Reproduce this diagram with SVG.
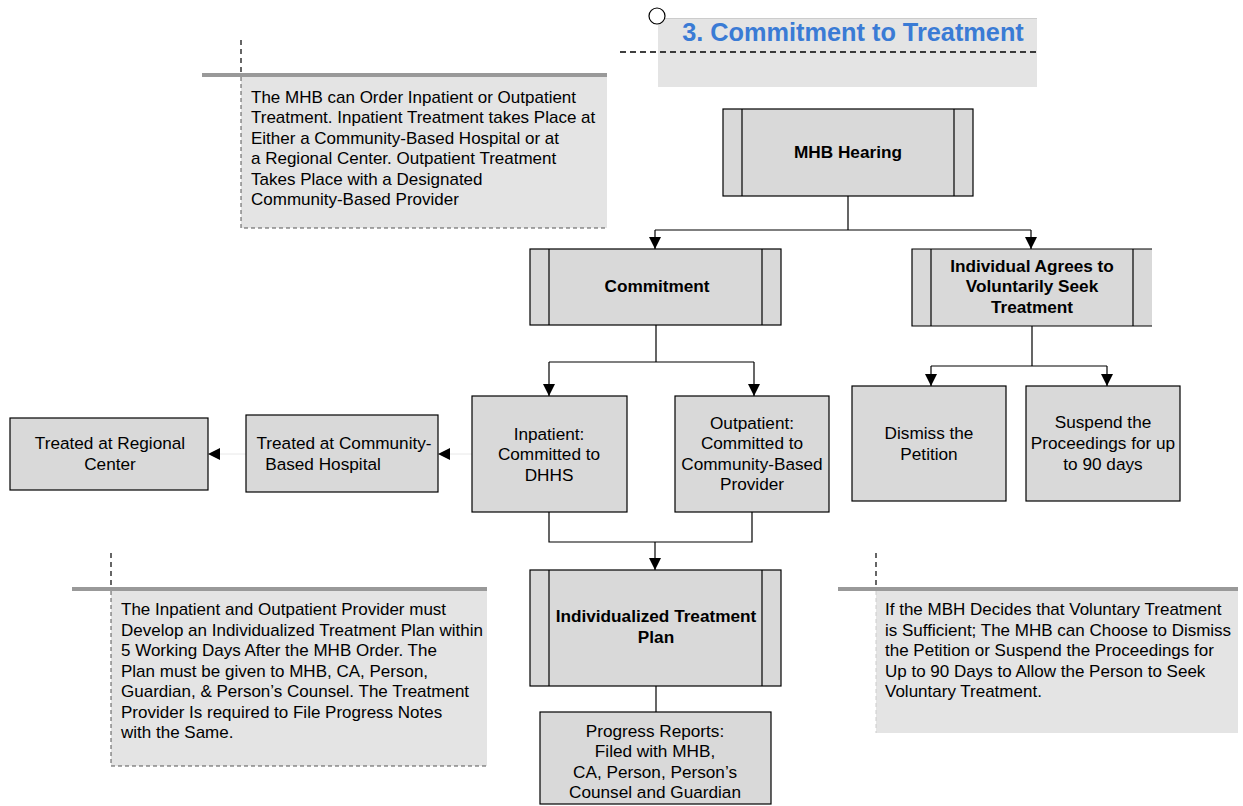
<svg xmlns="http://www.w3.org/2000/svg" width="1243" height="806" viewBox="0 0 1243 806">
<style>
text{font-family:"Liberation Sans",Arial,sans-serif;font-size:17.2px;fill:#000}
.n{font-size:17px}
.c{text-anchor:middle}
.b{font-weight:bold;font-size:17.2px}
.box{fill:#d9d9d9;stroke:#000;stroke-width:1.2}
.in{stroke:#000;stroke-width:1.2}
.note{fill:#e4e4e4}
.dash{fill:none;stroke:#555;stroke-width:1;stroke-dasharray:4,3}
.bar{stroke:#999;stroke-width:4}
.con{fill:none;stroke:#000;stroke-width:1.2}
</style>
<defs>
<marker id="ah" markerWidth="14" markerHeight="14" refX="12" refY="6" orient="auto" markerUnits="userSpaceOnUse">
<path d="M0,0 L12,6 L0,12 Z" fill="#000"/>
</marker>
</defs>

<g id="title">
<rect x="658" y="18" width="379" height="69" class="note"/>
<line x1="658" y1="18.5" x2="1037" y2="18.5" stroke="#ccc" stroke-width="1"/>
<line x1="620" y1="52" x2="1037" y2="52" stroke="#000" stroke-width="1.5" stroke-dasharray="6,4"/>
<circle cx="657" cy="16" r="8" fill="#fff" stroke="#000" stroke-width="1.2"/>
<text x="853" y="41" class="c" style="font-weight:bold;font-size:25.3px;fill:#3a7bd5">3. Commitment to Treatment</text>
</g>

<g id="note1">
<rect x="241" y="77" width="366" height="151" class="note"/>
<path d="M241,77 V228 H607" class="dash"/>
<line x1="241" y1="40" x2="241" y2="75" stroke="#000" stroke-width="1.2" stroke-dasharray="5,4"/>
<line x1="202" y1="75" x2="607" y2="75" class="bar"/>
<text class="n" x="251" y="103">The MHB can Order Inpatient or Outpatient</text>
<text class="n" x="251" y="123">Treatment. Inpatient Treatment takes Place at</text>
<text class="n" x="251" y="144">Either a Community-Based Hospital or at</text>
<text class="n" x="251" y="164">a Regional Center. Outpatient Treatment</text>
<text class="n" x="251" y="185">Takes Place with a Designated</text>
<text class="n" x="251" y="205">Community-Based Provider</text>
</g>

<g id="connectors">
<path d="M848,196 V230 M655,230 H1031" class="con"/>
<path d="M655,230 V249" class="con" marker-end="url(#ah)"/>
<path d="M1031,230 V249" class="con" marker-end="url(#ah)"/>
<path d="M656,325 V362 M549,362 H754" class="con"/>
<path d="M549,362 V396" class="con" marker-end="url(#ah)"/>
<path d="M754,362 V396" class="con" marker-end="url(#ah)"/>
<path d="M1032,326 V366 M931,366 H1107" class="con"/>
<path d="M931,366 V386" class="con" marker-end="url(#ah)"/>
<path d="M1107,366 V386" class="con" marker-end="url(#ah)"/>
<path d="M472,454 H438" fill="none" stroke="#e8e8e8" stroke-width="1" marker-end="url(#ah)"/>
<path d="M246,454 H208" fill="none" stroke="#e8e8e8" stroke-width="1" marker-end="url(#ah)"/>
<path d="M549,512 V542 H752 V512" class="con"/>
<path d="M655,542 V570" class="con" marker-end="url(#ah)"/>
<path d="M656,686 V712" class="con"/>
</g>

<g id="mhb-hearing">
<rect x="723" y="109" width="250" height="87" class="box"/>
<line x1="742" y1="109" x2="742" y2="196" class="in"/>
<line x1="954" y1="109" x2="954" y2="196" class="in"/>
<text x="848" y="158" class="c b">MHB Hearing</text>
</g>

<g id="commitment">
<rect x="530" y="249" width="251" height="76" class="box"/>
<line x1="549" y1="249" x2="549" y2="325" class="in"/>
<line x1="762" y1="249" x2="762" y2="325" class="in"/>
<text x="657" y="292" class="c b">Commitment</text>
</g>

<g id="voluntary">
<rect x="912" y="249" width="240" height="77" fill="#d9d9d9"/>
<path d="M1152,249 H912 V326 H1152" class="con"/>
<line x1="931" y1="249" x2="931" y2="326" class="in"/>
<line x1="1133" y1="249" x2="1133" y2="326" class="in"/>
<text x="1032" y="272" class="c b">Individual Agrees to</text>
<text x="1032" y="292" class="c b">Voluntarily Seek</text>
<text x="1032" y="313" class="c b">Treatment</text>
</g>

<g id="inpatient">
<rect x="472" y="396" width="155" height="116" class="box"/>
<text x="549" y="440" class="c">Inpatient:</text>
<text x="549" y="460" class="c">Committed to</text>
<text x="549" y="481" class="c">DHHS</text>
</g>

<g id="outpatient">
<rect x="675" y="396" width="154" height="116" class="box"/>
<text x="752" y="429" class="c">Outpatient:</text>
<text x="752" y="449" class="c">Committed to</text>
<text x="752" y="470" class="c">Community-Based</text>
<text x="752" y="490" class="c">Provider</text>
</g>

<g id="community-hospital">
<rect x="246" y="415" width="192" height="77" class="box"/>
<text x="344" y="449" class="c">Treated at Community-</text>
<text x="323" y="470" class="c">Based Hospital</text>
</g>

<g id="regional-center">
<rect x="10" y="418" width="198" height="72" class="box"/>
<text x="110" y="449" class="c">Treated at Regional</text>
<text x="110" y="470" class="c">Center</text>
</g>

<g id="dismiss">
<rect x="852" y="386" width="154" height="115" class="box"/>
<text x="929" y="439" class="c">Dismiss the</text>
<text x="929" y="460" class="c">Petition</text>
</g>

<g id="suspend">
<rect x="1026" y="386" width="154" height="115" class="box"/>
<text x="1103" y="428" class="c">Suspend the</text>
<text x="1103" y="449" class="c">Proceedings for up</text>
<text x="1103" y="470" class="c">to 90 days</text>
</g>

<g id="treatment-plan">
<rect x="530" y="570" width="251" height="116" class="box"/>
<line x1="549" y1="570" x2="549" y2="686" class="in"/>
<line x1="762" y1="570" x2="762" y2="686" class="in"/>
<text x="656" y="622" class="c b">Individualized Treatment</text>
<text x="656" y="643" class="c b">Plan</text>
</g>

<g id="progress-reports">
<rect x="540" y="712" width="231" height="92" class="box"/>
<text x="655" y="737" class="c">Progress Reports:</text>
<text x="655" y="757" class="c">Filed with MHB,</text>
<text x="655" y="778" class="c">CA, Person, Person’s</text>
<text x="655" y="798" class="c">Counsel and Guardian</text>
</g>

<g id="note2">
<rect x="111" y="591" width="376" height="175" class="note"/>
<path d="M111,591 V766 H487" class="dash"/>
<line x1="111" y1="553" x2="111" y2="589" stroke="#000" stroke-width="1.2" stroke-dasharray="5,4"/>
<line x1="72" y1="589" x2="487" y2="589" class="bar"/>
<text class="n" x="121" y="615">The Inpatient and Outpatient Provider must</text>
<text class="n" x="121" y="636">Develop an Individualized Treatment Plan within</text>
<text class="n" x="121" y="656">5 Working Days After the MHB Order.  The</text>
<text class="n" x="121" y="677">Plan must be given to MHB, CA, Person,</text>
<text class="n" x="121" y="697">Guardian, &amp; Person’s Counsel. The Treatment</text>
<text class="n" x="121" y="718">Provider Is required to File Progress Notes</text>
<text class="n" x="121" y="738">with the Same.</text>
</g>

<g id="note3">
<rect x="876" y="591" width="362" height="142" class="note"/>
<path d="M876,591 V733" fill="none" stroke="#ccc" stroke-width="1" stroke-dasharray="4,3"/>
<line x1="876" y1="553" x2="876" y2="589" stroke="#000" stroke-width="1.2" stroke-dasharray="5,4"/>
<line x1="838" y1="589" x2="1238" y2="589" class="bar"/>
<text class="n" x="885" y="615">If the MBH Decides that Voluntary Treatment</text>
<text class="n" x="885" y="636">is Sufficient; The MHB can Choose to Dismiss</text>
<text class="n" x="885" y="656">the Petition or Suspend the Proceedings for</text>
<text class="n" x="885" y="677">Up to 90 Days to Allow the Person to Seek</text>
<text class="n" x="885" y="697">Voluntary Treatment.</text>
</g>
</svg>
